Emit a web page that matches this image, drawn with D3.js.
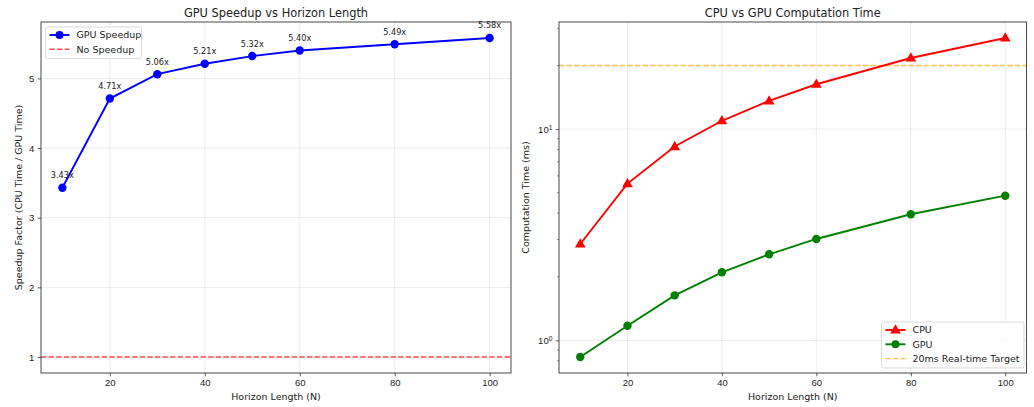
<!DOCTYPE html>
<html>
<head>
<meta charset="utf-8">
<script src="https://cdn.jsdelivr.net/npm/d3@7"></script>
<style>
  body { margin: 0; background: #fff; }
  svg { font-family: "DejaVu Sans", sans-serif; }
  .tick text { fill: #222; }
</style>
</head>
<body>
<div id="VisContainer"></div>
<script>
// data
horizons = [10, 20, 30, 40, 50, 60, 80, 100];
speedup  = [3.43, 4.71, 5.06, 5.21, 5.32, 5.40, 5.49, 5.58];
cpuTime  = [2.86, 5.52, 8.27, 10.95, 13.6, 16.3, 21.7, 27.0];
gpuTime  = [0.834, 1.172, 1.634, 2.10, 2.556, 3.02, 3.953, 4.84];
xTicks   = [20, 40, 60, 80, 100];
speedTicks = [1, 2, 3, 4, 5];
targetMs = 20;
baseline = 1;

W = 1034; H = 407;
fs = 9.5;

svg = d3.select("#VisContainer").append("svg")
  .attr("width", W).attr("height", H);

// matplotlib-ish 5% margins
function pad(lo, hi) { var m = (hi - lo) * 0.05; return [lo - m, hi + m]; }
xDom = pad(d3.min(horizons), d3.max(horizons));

function frame(g, w, h) {
  g.append("rect").attr("width", w).attr("height", h)
    .attr("fill", "none").attr("stroke", "#333").attr("stroke-width", 0.9);
}

function styleAxis(a) {
  a.select(".domain").remove();
  a.selectAll(".tick line").attr("stroke", "#333").attr("stroke-width", 0.8);
  a.selectAll(".tick text").attr("font-size", fs).attr("fill", "#222");
}

function legend(g, x, y, w, items) {
  var rowH = 14.3, h = items.length * rowH + 3;
  var lg = g.append("g").attr("transform", "translate(" + x + "," + y + ")");
  lg.append("rect").attr("width", w).attr("height", h).attr("rx", 2)
    .attr("fill", "#fff").attr("fill-opacity", 0.8)
    .attr("stroke", "#d0d0d0").attr("stroke-width", 0.8);
  items.forEach(function(it, i) {
    var cy = 8 + i * rowH;
    lg.append("line").attr("x1", 4).attr("x2", 24).attr("y1", cy).attr("y2", cy)
      .attr("stroke", it.color).attr("stroke-width", it.lw)
      .attr("stroke-dasharray", it.dash || null).attr("opacity", it.alpha || 1);
    if (it.marker == "circle") {
      lg.append("circle").attr("cx", 14).attr("cy", cy).attr("r", 4).attr("fill", it.color);
    } else if (it.marker == "tri") {
      lg.append("path").attr("d", d3.symbol(d3.symbolTriangle, 50)())
        .attr("transform", "translate(14," + (cy + 0.5) + ")").attr("fill", it.color);
    }
    lg.append("text").attr("x", 31).attr("y", cy).attr("dy", "0.35em")
      .attr("font-size", fs).attr("fill", "#222").text(it.label);
  });
}

// ---------- left: speedup ----------
L = {x: 41, y: 22, w: 470, h: 351};
gl = svg.append("g").attr("transform", "translate(" + L.x + "," + L.y + ")");
xL = d3.scaleLinear().domain(xDom).range([0, L.w]);
yL = d3.scaleLinear().domain(pad(baseline, d3.max(speedup))).range([L.h, 0]);

gl.selectAll("line.gx").data(xTicks).enter().append("line")
  .attr("x1", d => xL(d)).attr("x2", d => xL(d)).attr("y1", 0).attr("y2", L.h)
  .attr("stroke", "#b0b0b0").attr("stroke-opacity", 0.3).attr("stroke-width", 0.8);
gl.selectAll("line.gy").data(speedTicks).enter().append("line")
  .attr("x1", 0).attr("x2", L.w).attr("y1", d => yL(d)).attr("y2", d => yL(d))
  .attr("stroke", "#b0b0b0").attr("stroke-opacity", 0.3).attr("stroke-width", 0.8);

gl.append("line").attr("x1", 0).attr("x2", L.w)
  .attr("y1", yL(baseline)).attr("y2", yL(baseline))
  .attr("stroke", "#ff0000").attr("stroke-opacity", 0.7).attr("stroke-width", 1.4)
  .attr("stroke-dasharray", "5.3,2.3");

gl.append("path").datum(horizons)
  .attr("d", d3.line().x(d => xL(d)).y((d, i) => yL(speedup[i])))
  .attr("fill", "none").attr("stroke", "#0000ff").attr("stroke-width", 1.9);
gl.selectAll("circle.pt").data(horizons).enter().append("circle")
  .attr("cx", d => xL(d)).attr("cy", (d, i) => yL(speedup[i])).attr("r", 4.2)
  .attr("fill", "#0000ff");
gl.selectAll("text.ann").data(horizons).enter().append("text")
  .attr("x", d => xL(d)).attr("y", (d, i) => yL(speedup[i]) - 9.5)
  .attr("text-anchor", "middle").attr("font-size", 8.2).attr("fill", "#222")
  .text((d, i) => speedup[i].toFixed(2) + "x");

axl = gl.append("g").attr("transform", "translate(0," + L.h + ")")
  .call(d3.axisBottom(xL).tickValues(xTicks).tickSize(3.3).tickPadding(3.3).tickFormat(d3.format("d")));
styleAxis(axl);
ayl = gl.append("g").call(d3.axisLeft(yL).tickValues(speedTicks).tickSize(3.3).tickPadding(3.3).tickFormat(d3.format("d")));
styleAxis(ayl);
frame(gl, L.w, L.h);

legend(gl, 4.5, 5, 96, [
  {label: "GPU Speedup", color: "#0000ff", lw: 1.9, marker: "circle"},
  {label: "No Speedup", color: "#ff0000", lw: 1.4, dash: "5.3,2.3", alpha: 0.7}
]);

svg.append("text").attr("x", L.x + L.w / 2).attr("y", 16.5).attr("text-anchor", "middle")
  .attr("font-size", 11.4).attr("fill", "#222").text("GPU Speedup vs Horizon Length");
svg.append("text").attr("x", L.x + L.w / 2).attr("y", 400).attr("text-anchor", "middle")
  .attr("font-size", fs).attr("fill", "#222").text("Horizon Length (N)");
svg.append("text").attr("transform", "translate(22," + (L.y + L.h / 2) + ") rotate(-90)")
  .attr("text-anchor", "middle").attr("font-size", fs).attr("fill", "#222")
  .text("Speedup Factor (CPU Time / GPU Time)");

// ---------- right: computation time (log) ----------
R = {x: 559, y: 22, w: 467.5, h: 351};
gr = svg.append("g").attr("transform", "translate(" + R.x + "," + R.y + ")");
xR = d3.scaleLinear().domain(xDom).range([0, R.w]);
allT = cpuTime.concat(gpuTime);
lg10 = pad(Math.log10(d3.min(allT)), Math.log10(d3.max(allT)));
yR = d3.scaleLog().domain([Math.pow(10, lg10[0]), Math.pow(10, lg10[1])]).range([R.h, 0]);
majors = [1, 10];
minors = [];
[0.1, 1, 10].forEach(function(b) {
  for (var k = 2; k <= 9; k++) {
    var v = b * k;
    if (v >= yR.domain()[0] && v <= yR.domain()[1]) minors.push(v);
  }
});

gr.selectAll("line.gx").data(xTicks).enter().append("line")
  .attr("x1", d => xR(d)).attr("x2", d => xR(d)).attr("y1", 0).attr("y2", R.h)
  .attr("stroke", "#b0b0b0").attr("stroke-opacity", 0.3).attr("stroke-width", 0.8);
gr.selectAll("line.gy").data(majors).enter().append("line")
  .attr("x1", 0).attr("x2", R.w).attr("y1", d => yR(d)).attr("y2", d => yR(d))
  .attr("stroke", "#b0b0b0").attr("stroke-opacity", 0.3).attr("stroke-width", 0.8);

gr.append("line").attr("x1", 0).attr("x2", R.w)
  .attr("y1", yR(targetMs)).attr("y2", yR(targetMs))
  .attr("stroke", "#ffa500").attr("stroke-opacity", 0.7).attr("stroke-width", 1.4)
  .attr("stroke-dasharray", "5.3,2.3");

gr.append("path").datum(horizons)
  .attr("d", d3.line().x(d => xR(d)).y((d, i) => yR(cpuTime[i])))
  .attr("fill", "none").attr("stroke", "#ff0000").attr("stroke-width", 1.9);
gr.selectAll("path.tri").data(horizons).enter().append("path")
  .attr("d", d3.symbol(d3.symbolTriangle, 50)())
  .attr("transform", (d, i) => "translate(" + xR(d) + "," + (yR(cpuTime[i]) + 0.5) + ")")
  .attr("fill", "#ff0000");

gr.append("path").datum(horizons)
  .attr("d", d3.line().x(d => xR(d)).y((d, i) => yR(gpuTime[i])))
  .attr("fill", "none").attr("stroke", "#008000").attr("stroke-width", 1.9);
gr.selectAll("circle.pt").data(horizons).enter().append("circle")
  .attr("cx", d => xR(d)).attr("cy", (d, i) => yR(gpuTime[i])).attr("r", 4.2)
  .attr("fill", "#008000");

axr = gr.append("g").attr("transform", "translate(0," + R.h + ")")
  .call(d3.axisBottom(xR).tickValues(xTicks).tickSize(3.3).tickPadding(3.3).tickFormat(d3.format("d")));
styleAxis(axr);
ayr = gr.append("g").call(d3.axisLeft(yR).tickValues(majors).tickSize(3.3).tickPadding(3.3).tickFormat(""));
styleAxis(ayr);
ayr.selectAll(".tick text").each(function(d) {
  var t = d3.select(this);
  t.append("tspan").text("10");
  t.append("tspan").attr("font-size", 6.7).attr("dy", "-0.45em").text(String(Math.round(Math.log10(d))));
});
gr.selectAll("line.minor").data(minors).enter().append("line")
  .attr("x1", -1.9).attr("x2", 0).attr("y1", d => yR(d)).attr("y2", d => yR(d))
  .attr("stroke", "#333").attr("stroke-width", 0.6);
frame(gr, R.w, R.h);

legend(gr, R.w - 145, R.h - 51, 142.5, [
  {label: "CPU", color: "#ff0000", lw: 1.9, marker: "tri"},
  {label: "GPU", color: "#008000", lw: 1.9, marker: "circle"},
  {label: "20ms Real-time Target", color: "#ffa500", lw: 1.4, dash: "5.3,2.3", alpha: 0.7}
]);

svg.append("text").attr("x", R.x + R.w / 2).attr("y", 16.5).attr("text-anchor", "middle")
  .attr("font-size", 11.4).attr("fill", "#222").text("CPU vs GPU Computation Time");
svg.append("text").attr("x", R.x + R.w / 2).attr("y", 400).attr("text-anchor", "middle")
  .attr("font-size", fs).attr("fill", "#222").text("Horizon Length (N)");
svg.append("text").attr("transform", "translate(529," + (R.y + R.h / 2) + ") rotate(-90)")
  .attr("text-anchor", "middle").attr("font-size", fs).attr("fill", "#222")
  .text("Computation Time (ms)");
</script>
</body>
</html>
